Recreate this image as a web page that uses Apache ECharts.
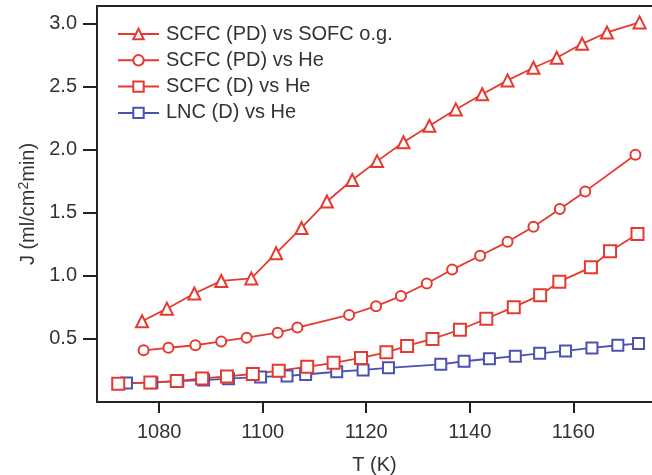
<!DOCTYPE html>
<html>
<head>
<meta charset="utf-8">
<script src="https://cdn.jsdelivr.net/npm/echarts@6/dist/echarts.min.js"></script>
<style>
html, body { margin: 0; padding: 0; background: #fff; }
#chart { width: 652px; height: 475px; }
</style>
</head>
<body>
<div id="chart"></div>
<script>
var names = ['SCFC (PD) vs SOFC o.g.', 'SCFC (PD) vs He', 'SCFC (D) vs He', 'LNC (D) vs He'];

// SCFC (PD) vs SOFC o.g.
var tPdOg = [1076.7, 1081.5, 1086.8, 1092.0, 1097.8, 1102.6, 1107.5, 1112.4, 1117.3, 1122.1,
             1127.2, 1132.2, 1137.3, 1142.4, 1147.3, 1152.3, 1156.8, 1161.7, 1166.5, 1172.8];
var jPdOg = [0.64, 0.74, 0.86, 0.96, 0.98, 1.18, 1.38, 1.59, 1.76, 1.91,
             2.06, 2.19, 2.32, 2.44, 2.55, 2.65, 2.73, 2.84, 2.93, 3.01];

// SCFC (PD) vs He
var tPdHe = [1077.0, 1081.8, 1087.0, 1092.0, 1096.9, 1102.9, 1106.7, 1116.7, 1121.9, 1126.7,
             1131.7, 1136.6, 1142.0, 1147.3, 1152.3, 1157.4, 1162.3, 1172.0];
var jPdHe = [0.41, 0.43, 0.45, 0.48, 0.51, 0.55, 0.59, 0.69, 0.76, 0.84,
             0.94, 1.05, 1.16, 1.27, 1.39, 1.53, 1.67, 1.96];

// SCFC (D) vs He
var tDHe = [1072.1, 1078.3, 1083.4, 1088.3, 1093.1, 1098.1, 1103.1, 1108.6, 1113.7, 1119.0, 1123.9,
            1127.9, 1132.8, 1138.1, 1143.2, 1148.5, 1153.6, 1157.3, 1163.4, 1167.1, 1172.4];
var jDHe = [0.144, 0.155, 0.166, 0.187, 0.203, 0.222, 0.248, 0.279, 0.311, 0.349, 0.394,
            0.445, 0.50, 0.573, 0.66, 0.752, 0.847, 0.954, 1.068, 1.196, 1.333];

// LNC (D) vs He
var tLnc = [1073.7, 1078.6, 1083.6, 1088.6, 1093.4, 1099.6, 1104.7, 1108.3, 1114.3, 1119.4,
            1124.3, 1134.4, 1138.9, 1143.8, 1148.8, 1153.5, 1158.5, 1163.6, 1168.6, 1172.6];
var jLnc = [0.151, 0.153, 0.166, 0.174, 0.185, 0.199, 0.207, 0.218, 0.240, 0.254,
            0.271, 0.299, 0.323, 0.343, 0.363, 0.386, 0.405, 0.429, 0.450, 0.463];

var xTicks = [1080, 1100, 1120, 1140, 1160];
var yTicks = [0.5, 1.0, 1.5, 2.0, 2.5, 3.0];

var red = '#e53a2f';
var blue = '#4b52b3';
var font = 'Liberation Sans, Arial, sans-serif';

function pairs(xs, ys) {
  var out = [];
  for (var i = 0; i < xs.length; i++) {
    out.push([xs[i], ys[i]]);
  }
  return out;
}

function lineSeries(name, data, symbol, color, size) {
  return {
    name: name,
    type: 'line',
    data: data,
    symbol: symbol,
    symbolSize: size,
    showAllSymbol: true,
    lineStyle: { color: color, width: 1.8 },
    itemStyle: { color: color, borderColor: color, borderWidth: 1.6 },
    emphasis: { disabled: true }
  };
}

var chart = echarts.init(document.getElementById('chart'));

var option = {
  animation: false,
  textStyle: { fontFamily: font },
  grid: { left: 97, right: 0, top: 6, bottom: 73, outerBoundsMode: 'none', containLabel: false },
  legend: {
    orient: 'vertical',
    left: 112,
    top: 19,
    itemWidth: 41,
    itemHeight: 13,
    itemGap: 6.3,
    data: names,
    textStyle: { fontSize: 20, color: '#333', fontFamily: font, padding: [0, 0, 0, 2] }
  },
  xAxis: [
    {
      type: 'value',
      min: 1068,
      max: 1175.2,
      name: 'T (K)',
      nameLocation: 'middle',
      nameGap: 53,
      nameTextStyle: { fontSize: 20, color: '#333', fontFamily: font },
      axisLine: { lineStyle: { color: '#222', width: 2 } },
      axisTick: { show: true, customValues: xTicks, length: 11, lineStyle: { color: '#222', width: 2 } },
      axisLabel: {
        customValues: xTicks,
        fontSize: 20,
        color: '#333',
        margin: 20,
        fontFamily: font,
        formatter: function (v) { return String(v); }
      },
      splitLine: { show: false }
    },
    {
      type: 'value',
      position: 'top',
      min: 1068,
      max: 1175.2,
      axisLine: { show: true, lineStyle: { color: '#222', width: 2 } },
      axisTick: { show: false },
      axisLabel: { show: false },
      splitLine: { show: false }
    }
  ],
  yAxis: {
    type: 'value',
    min: 0,
    max: 3.14,
    name: '{a|J (ml/cm}{s|2}{a|min)}',
    nameLocation: 'middle',
    nameRotate: 90,
    nameGap: 58,
    nameTextStyle: {
      fontFamily: font,
      rich: {
        a: { fontSize: 20, color: '#333', fontFamily: font, lineHeight: 21, verticalAlign: 'bottom' },
        s: { fontSize: 14, color: '#333', fontFamily: font, lineHeight: 21, verticalAlign: 'top' }
      }
    },
    axisLine: { show: true, lineStyle: { color: '#222', width: 2 } },
    axisTick: { show: true, customValues: yTicks, length: 14, lineStyle: { color: '#222', width: 2 } },
    axisLabel: {
      customValues: yTicks,
      fontSize: 20,
      color: '#333',
      margin: 20,
      fontFamily: font,
      formatter: function (v) { return v.toFixed(1); }
    },
    splitLine: { show: false }
  },
  series: [
    lineSeries(names[3], pairs(tLnc, jLnc), 'emptyRect', blue, 11),
    lineSeries(names[0], pairs(tPdOg, jPdOg), 'emptyTriangle', red, 12),
    lineSeries(names[1], pairs(tPdHe, jPdHe), 'emptyCircle', red, 10),
    lineSeries(names[2], pairs(tDHe, jDHe), 'emptyRect', red, 12)
  ]
};

chart.setOption(option);
</script>
</body>
</html>
